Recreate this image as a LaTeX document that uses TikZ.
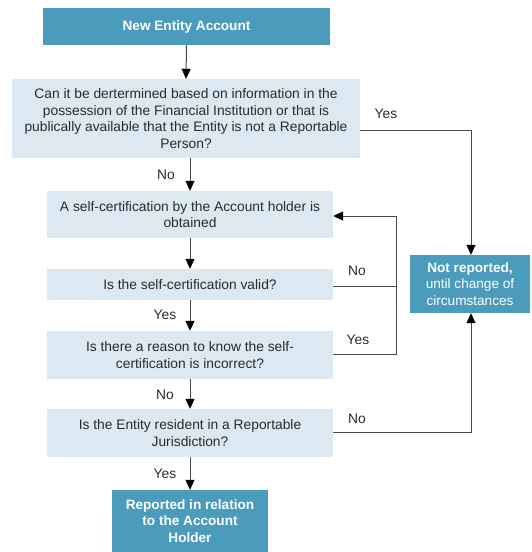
\documentclass[tikz,border=0pt]{standalone}
\usepackage{fontspec}
\setmainfont{Liberation Sans}
\usetikzlibrary{arrows.meta}
\definecolor{darkbox}{HTML}{4A9BBC}
\definecolor{lightbox}{HTML}{DCE9F3}
\definecolor{txt}{HTML}{2B2B2B}
\definecolor{ln}{HTML}{4A4A4A}
\tikzset{
  darkstyle/.style={fill=darkbox, text=white, font=\fontsize{13.6}{16.2}\selectfont\bfseries, align=center, inner sep=0pt},
  lightstyle/.style={fill=lightbox, text=txt, font=\fontsize{13.8}{16.8}\selectfont, align=center, inner sep=0pt},
  lbl/.style={text=txt, font=\fontsize{13.8}{16}\selectfont, inner sep=0pt},
  conn/.style={draw=ln, line width=1pt},
  arr/.style={conn, -{Triangle[length=10pt,width=9pt,color=black]}}
}
\begin{document}
\begin{tikzpicture}[x=1pt,y=-1pt]
\useasboundingbox (0,0) rectangle (531,552);
\node[darkstyle, minimum width=287pt, minimum height=37pt] (b1) at (186.5,26.5) {New Entity Account};
\node[lightstyle, minimum width=348pt, minimum height=79pt] (b2) at (186,118.5) {Can it be dertermined based on information in the\\possession of the Financial Institution or that is\\publically available that the Entity is not a Reportable\\Person?};
\node[lightstyle, minimum width=286pt, minimum height=47pt] (b3) at (190,214.5) {A self-certification by the Account holder is\\obtained};
\node[lightstyle, minimum width=286pt, minimum height=31pt] (b4) at (190,284.5) {Is the self-certification valid?};
\node[lightstyle, minimum width=286pt, minimum height=48pt] (b5) at (190,355) {Is there a reason to know the self-\\certification is incorrect?};
\node[lightstyle, minimum width=286pt, minimum height=48pt] (b6) at (190,433) {Is the Entity resident in a Reportable\\Jurisdiction?};
\node[darkstyle, minimum width=156pt, minimum height=62pt] (b7) at (190,521) {Reported in relation\\to the Account\\Holder};
\node[darkstyle, minimum width=120pt, minimum height=58pt] (b8) at (470,284) {Not reported,\\\mdseries until change of\\\mdseries circumstances};

\coordinate (c1) at (471,130);
\coordinate (c2) at (396,286);
\coordinate (c3) at (396,216);
\coordinate (c4) at (396,354);
\coordinate (c5) at (471,432);

\draw[arr] (b1.south) -- (b2.north);
\draw[arr] (b3.north |- b2.south) -- (b3.north);
\draw[arr] (b3.south) -- (b4.north);
\draw[arr] (b4.south) -- (b5.north);
\draw[arr] (b5.south) -- (b6.north);
\draw[arr] (b6.south) -- (b7.north);
\draw[arr] (b2.east |- c1) -- (c1) -- (c1 |- b8.north);
\draw[conn] (b4.east |- c2) -- (c2) -- (c3);
\draw[arr] (c3) -- (b3.east |- c3);
\draw[conn] (b5.east |- c4) -- (c4) -- (c2);
\draw[arr] (b6.east |- c5) -- (c5) -- (c5 |- b8.south);

\node[lbl] (l1) at (166,175) {No};
\node[lbl] (l2) at (386,114) {Yes};
\node[lbl] (l3) at (357,271) {No};
\node[lbl] (l4) at (165,315) {Yes};
\node[lbl] (l5) at (358,340) {Yes};
\node[lbl] (l6) at (165,395) {No};
\node[lbl] (l7) at (357,419) {No};
\node[lbl] (l8) at (165,474) {Yes};
\end{tikzpicture}
\end{document}
